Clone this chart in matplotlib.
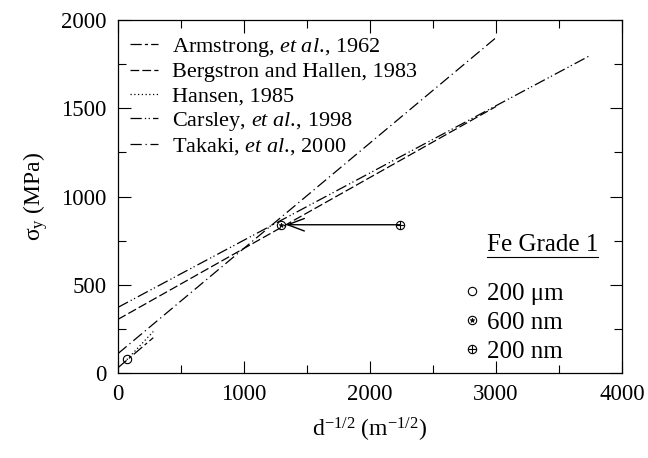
import numpy as np
import matplotlib.pyplot as plt
from matplotlib.legend_handler import HandlerTuple

plt.rcParams['font.family'] = ['Liberation Serif', 'DejaVu Serif']
plt.rcParams['mathtext.fontset'] = 'custom'
plt.rcParams['mathtext.rm'] = 'Liberation Serif'
plt.rcParams['mathtext.it'] = 'Liberation Serif:italic'

# Hall-Petch fits: end points (d^-1/2, sigma_y)
names = ['Armstrong, $\\mathit{et\\ al.}\\!$, 1962',
         'Bergstron and Hallen, 1983',
         'Hansen, 1985',
         'Carsley, $\\mathit{et\\ al.}\\!$, 1998',
         'Takaki, $\\mathit{et\\ al.}\\!$, 2000']
fit_x = [[0, 280], [0, 3000], [50, 280], [0, 3750], [0, 3000]]
fit_y = [[30, 200], [304, 1510], [60, 235], [372, 1800], [110, 1900]]
styles = [(0, (9, 2.5, 2.5, 2.5)), (0, (7, 2.5)), (0, (1, 2)),
          (0, (9, 2.5, 1, 2, 1, 2.5)), (0, (9, 3, 1, 3))]

# measured points, Fe grade 1
grain = ['200 \u03bcm', '600 nm', '200 nm']
inv_sqrt_d = [70.7, 1291, 2236]
sigma = [80, 840, 840]

fig = plt.figure(figsize=(6.48, 4.58), dpi=100)
ax = fig.add_axes([0.1821, 0.1856, 0.7778, 0.7707])

lines = []
for n, xs, ys, ls in zip(names, fit_x, fit_y, styles):
    l, = ax.plot(xs, ys, color='k', lw=0.9, linestyle=ls, label=n)
    lines.append(l)

ms = 6
h0, = ax.plot(inv_sqrt_d[0], sigma[0], 'o', mfc='none', mec='k', ms=ms, mew=0.8)
h1a, = ax.plot(inv_sqrt_d[1], sigma[1], 'o', mfc='none', mec='k', ms=ms, mew=0.8)
h1b, = ax.plot(inv_sqrt_d[1], sigma[1], '*', color='k', ms=3.5, mew=0.5)
h2a, = ax.plot(inv_sqrt_d[2], sigma[2], 'o', mfc='none', mec='k', ms=ms, mew=0.8)
h2b, = ax.plot(inv_sqrt_d[2], sigma[2], '+', color='k', ms=ms, mew=0.8)

# 200 nm -> 600 nm
ax.annotate('', xy=(inv_sqrt_d[1] + 40, sigma[1]), xytext=(inv_sqrt_d[2], sigma[2]),
            arrowprops=dict(arrowstyle='->,head_length=1.2,head_width=0.45',
                            lw=1.0, color='k', shrinkA=0, shrinkB=0))

ax.set_xlim(0, 4000)
ax.set_ylim(0, 2000)
ax.set_xticks([0, 1000, 2000, 3000, 4000])
ax.set_xticks([500, 1500, 2500, 3500], minor=True)
ax.set_yticks([0, 500, 1000, 1500, 2000])
ax.set_yticks([250, 750, 1250, 1750], minor=True)
ax.tick_params(which='both', direction='in', top=True, right=True, width=0.8,
               labelsize=16.5, pad=8)
ax.tick_params(which='major', length=9)
ax.tick_params(which='minor', length=6)
for s in ax.spines.values():
    s.set_linewidth(0.9)

ax.set_xlabel('d$^{-1/2}$ (m$^{-1/2}$)', fontsize=17, labelpad=8)
ax.set_ylabel('\u03c3$_{\\rm y}$ (MPa)', fontsize=17, labelpad=8)

leg1 = ax.legend(handles=lines, loc='upper left', bbox_to_anchor=(0.024, 0.956),
                 frameon=False, fontsize=16, handlelength=1.26,
                 handletextpad=0.63, labelspacing=0.15,
                 borderaxespad=0, borderpad=0)
ax.add_artist(leg1)

leg2 = ax.legend(handles=[h0, (h1a, h1b), (h2a, h2b)], labels=grain,
                 handler_map={tuple: HandlerTuple(ndivide=1)},
                 loc='upper left', bbox_to_anchor=(0.687, 0.256), frameon=False,
                 fontsize=18, handlelength=0.6, handletextpad=0.3,
                 labelspacing=0.25, borderaxespad=0, borderpad=0)

ax.text(0.842, 0.363, 'Fe Grade 1', transform=ax.transAxes, fontsize=18,
        ha='center', va='center')
ax.plot([0.732, 0.952], [0.329, 0.329], transform=ax.transAxes, color='k', lw=0.8)

fig.savefig('out.png', dpi=100)
